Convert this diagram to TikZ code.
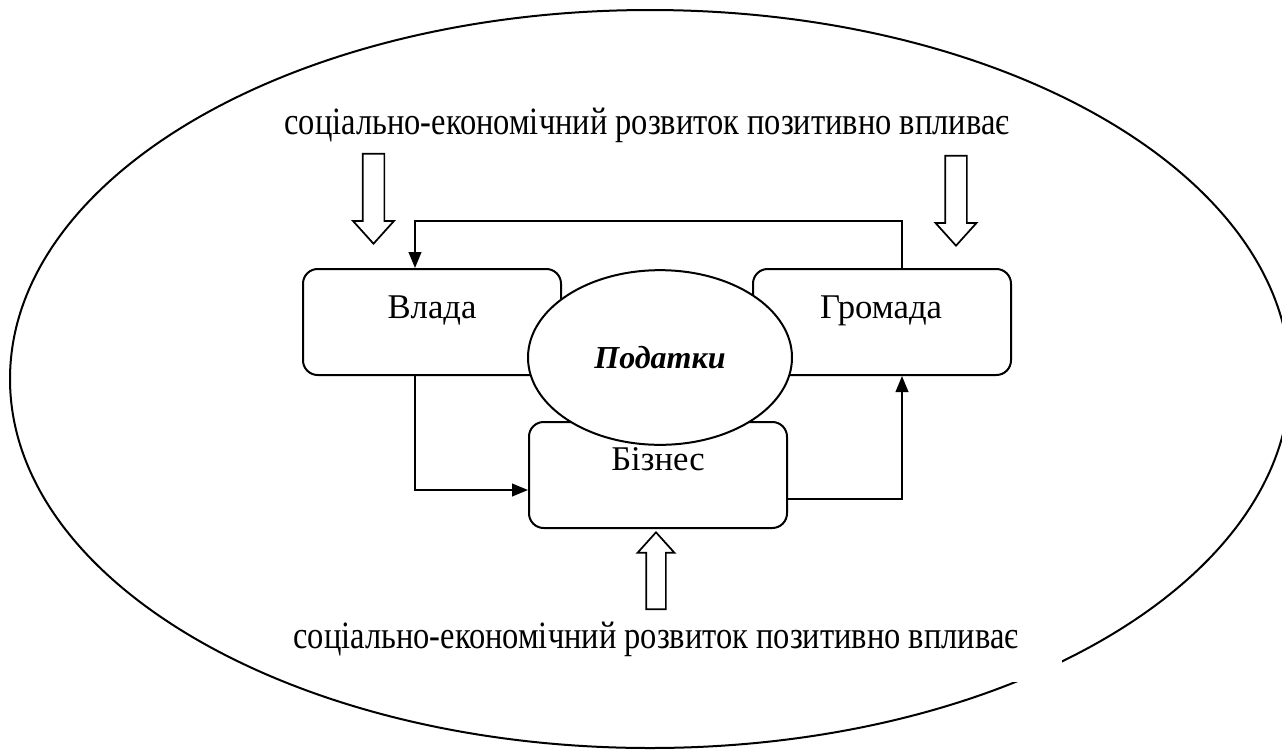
\documentclass[tikz,border=0pt]{standalone}
\usepackage{fontspec}
\setmainfont{Liberation Serif}
\newfontfamily\narrowserif[FakeStretch=0.84]{Liberation Serif}
\usetikzlibrary{shapes.geometric,shapes.arrows,arrows.meta,calc}

\begin{document}
\begin{tikzpicture}[x=0.75pt,y=0.75pt,yscale=-1,line width=1.5pt,
  box/.style={draw, rounded corners=11pt, minimum width=193.5pt, minimum height=79.5pt, inner sep=0pt},
  lbl/.style={anchor=base, inner sep=0pt, font=\fontsize{26}{30}\selectfont},
  note/.style={anchor=base, inner sep=0pt, font=\narrowserif\fontsize{29}{33}\selectfont},
  hollow/.style={draw, fill=white, single arrow, anchor=tip, minimum height=67.5pt, inner xsep=0pt, inner ysep=7.5pt,
    single arrow head extend=7.2pt, single arrow tip angle=84, line width=1.3pt},
  link/.style={-{Triangle[length=12pt,width=9.5pt]}}
]
\useasboundingbox (0,0) rectangle (1282,751);

\draw (650,379) ellipse [x radius=640, y radius=369];
% text frame of the lower note hides a piece of the outline
\fill[white] (1000,600) rectangle (1062,682);

\node[note] (topnote) at (647,134) {соціально-економічний розвиток позитивно впливає};
\node[note] (botnote) at (656,648) {соціально-економічний розвиток позитивно впливає};

\node[hollow, rotate=-90] (arrL) at (373.5,245) {};
\node[hollow, rotate=-90] (arrR) at (956,247) {};
\node[hollow, rotate=90, minimum height=57.75pt, inner ysep=6.75pt, single arrow head extend=6.4pt] (arrB) at (656,531) {};

\node[box] (vlada) at (432,322) {};
\node[box] (hromada) at (882,322) {};
\node[box] (biznes) at (658,475) {};
\node[lbl] (vladaT) at (432,318) {Влада};
\node[lbl] (hromadaT) at (881,318) {Громада};
\node[lbl] (biznesT) at (658,470.7) {Бізнес};

\node[draw, ellipse, fill=white, minimum width=198pt, minimum height=131pt, inner sep=0pt,
  font=\fontsize{24}{28}\selectfont\bfseries\itshape] (taxes) at (660,357.5) {Податки};

% links
\draw[link] ($(hromada.north)+(20,0)$) -- ++(0,-47.3) -| ($(vlada.north)+(-17,0)$);
\draw[link] ($(vlada.south)+(-17,0)$) |- ($(biznes.west)+(0,15)$);
\draw[link] ($(biznes.east)+(0,24)$) -| ($(hromada.south)+(20,0)$);

\end{tikzpicture}
\end{document}
